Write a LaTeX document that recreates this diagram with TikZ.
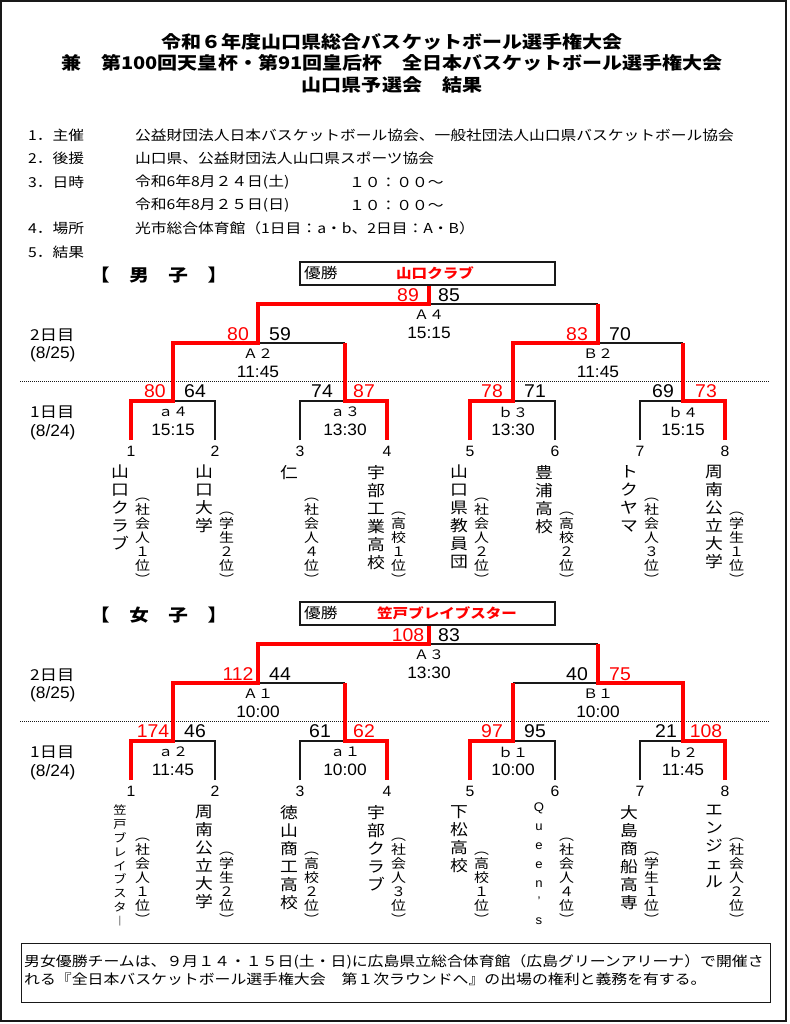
\documentclass[tikz,border=0pt]{standalone}
\usepackage{fontspec}
\setmainfont{Noto Sans CJK JP}[FakeStretch=1.15]
\newfontfamily\lat{Liberation Sans}[FakeStretch=1.05]
\definecolor{wred}{RGB}{255,0,0}
\definecolor{ink}{RGB}{25,25,25}
\newcommand\myfs[2]{\fontsize{#1}{#2}\selectfont}
\tikzset{
 win/.style={draw=wred, line width=3.6pt},
 lose/.style={draw=ink, line width=1.4pt},
 score/.style={anchor=base, inner sep=0pt, font=\lat\myfs{18.5}{18}},
 wscore/.style={score, text=wred},
 mlabel/.style={inner sep=0pt, font=\myfs{13}{14}},
 tlabel/.style={inner sep=0pt, font=\lat\myfs{16.5}{16}},
 num/.style={inner sep=0pt, font=\lat\myfs{15}{15}},
 vname/.style={anchor=north, inner sep=0pt, align=center, font=\myfs{15.5}{18}},
 vcat/.style={anchor=south, inner sep=0pt, align=center, font=\myfs{13}{14}},
 info/.style={anchor=west, inner sep=0pt, font=\myfs{13.7}{16}},
 title/.style={inner sep=0pt, font=\bfseries\myfs{17.4}{20}},
 head/.style={anchor=west, inner sep=0pt, font=\bfseries\myfs{17}{18}},
 champ/.style={draw=ink, line width=1.2pt, minimum width=255pt, minimum height=23pt, inner sep=0pt},
 day/.style={anchor=west, inner sep=0pt, font=\myfs{15}{16}},
 daydate/.style={anchor=west, inner sep=0pt, font=\lat\myfs{16.5}{16}},
}
\begin{document}
\begin{tikzpicture}[x=1pt,y=-1pt]
\useasboundingbox (0,0) rectangle (789,1024);
\draw[draw=ink, line width=1.6pt] (1,1) rectangle (786,1021);

% titles
\node[title] (t1) at (392,42) {令和６年度山口県総合バスケットボール選手権大会};
\node[title] (t2) at (392,63) {兼　第100回天皇杯・第91回皇后杯　全日本バスケットボール選手権大会};
\node[title] (t3) at (392,85) {山口県予選会　結果};

% info
\node[info] (i1a) at (28,135) {1．主催};
\node[info] (i1b) at (135,135) {公益財団法人日本バスケットボール協会、一般社団法人山口県バスケットボール協会};
\node[info] (i2a) at (28,158) {2．後援};
\node[info] (i2b) at (135,158) {山口県、公益財団法人山口県スポーツ協会};
\node[info] (i3a) at (28,182) {3．日時};
\node[info] (i3b) at (135,182) {令和6年8月２４日(土)};
\node[info] (i3c) at (349,182) {１０：００～};
\node[info] (i3d) at (135,205) {令和6年8月２５日(日)};
\node[info] (i3e) at (349,205) {１０：００～};
\node[info] (i4a) at (28,228) {4．場所};
\node[info] (i4b) at (135,228) {光市総合体育館（1日目：a・b、2日目：A・B）};
\node[info] (i5a) at (28,252) {5．結果};

% ================= MEN =================
\node[head] (mh) at (90,275) {【　男　子　】};
\node[champ] (mW) at (427.5,273.5) {};
\node[anchor=west, inner sep=0pt, font=\myfs{14.5}{16}] (mWl) at (304,273.5) {優勝};
\node[anchor=west, inner sep=0pt, font=\bfseries\myfs{13.5}{16}, text=wred] (mWn) at (396,273.5) {山口クラブ};

\coordinate (sepmL) at (20,381); \coordinate (sepmR) at (769,381);
\draw[ink, line width=1pt, dash pattern=on 1pt off 1pt] (sepmL) -- (sepmR);

\node[day] (md2) at (30,335) {2日目};
\node[daydate] (md2d) at (30,354) {(8/25)};
\node[day] (md1) at (30,412) {1日目};
\node[daydate] (md1d) at (30,432) {(8/24)};

\coordinate (m1) at (131,440); \coordinate (m2) at (215,440);
\coordinate (m3) at (300,440); \coordinate (m4) at (387,440);
\coordinate (m5) at (470,440); \coordinate (m6) at (555,440);
\coordinate (m7) at (640,440); \coordinate (m8) at (725,440);
\coordinate (mA) at (173,401); \coordinate (mB) at (345,401);
\coordinate (mC) at (513,401); \coordinate (mD) at (683,401);
\coordinate (mE) at (258,343); \coordinate (mF) at (598,343);
\coordinate (mG) at (429,304);

\draw[lose] (m2) |- (mA);
\draw[lose] (m3) |- (mB);
\draw[lose] (m6) |- (mC);
\draw[lose] (m7) |- (mD);
\draw[lose] (mE) -- (mB |- mE);
\draw[lose] (mF) -- (mD |- mF);
\draw[lose] (mG) -- (mF |- mG);
\draw[win] (m1) |- (mA) |- (mE) |- (mG) -- (mG |- mW.south);
\draw[win] (m4) |- (mB) -- (mB |- mE);
\draw[win] (m5) |- (mC) |- (mF) -- (mF |- mG);
\draw[win] (m8) |- (mD) -- (mD |- mF);

% scores
\node[wscore] (msG1) at (408,301) {89};
\node[score]  (msG2) at (449,301) {85};
\node[wscore] (msE1) at (238,340) {80};
\node[score]  (msE2) at (280,340) {59};
\node[wscore] (msF1) at (577,340) {83};
\node[score]  (msF2) at (620,340) {70};
\node[wscore] (msA1) at (155,397.5) {80};
\node[score]  (msA2) at (195,397.5) {64};
\node[score]  (msB1) at (322,397.5) {74};
\node[wscore] (msB2) at (364,397.5) {87};
\node[wscore] (msC1) at (492,397.5) {78};
\node[score]  (msC2) at (535,397.5) {71};
\node[score]  (msD1) at (663,397.5) {69};
\node[wscore] (msD2) at (706,397.5) {73};

% match labels
\node[mlabel] (mlG) at (429,315) {Ａ４};
\node[tlabel] (mtG) at (429,333) {15:15};
\node[mlabel] (mlE) at (258,354) {Ａ２};
\node[tlabel] (mtE) at (258,372) {11:45};
\node[mlabel] (mlF) at (598,354) {Ｂ２};
\node[tlabel] (mtF) at (598,372) {11:45};
\node[mlabel] (mlA) at (173,412) {ａ４};
\node[tlabel] (mtA) at (173,430) {15:15};
\node[mlabel] (mlB) at (345,412) {ａ３};
\node[tlabel] (mtB) at (345,430) {13:30};
\node[mlabel] (mlC) at (513,412) {ｂ３};
\node[tlabel] (mtC) at (513,430) {13:30};
\node[mlabel] (mlD) at (683,412) {ｂ４};
\node[tlabel] (mtD) at (683,430) {15:15};

% numbers
\node[num] (mn1) at (131,451) {1};
\node[num] (mn2) at (215,451) {2};
\node[num] (mn3) at (300,451) {3};
\node[num] (mn4) at (387,451) {4};
\node[num] (mn5) at (470,451) {5};
\node[num] (mn6) at (555,451) {6};
\node[num] (mn7) at (640,451) {7};
\node[num] (mn8) at (725,451) {8};

% names
\node[vname] (mt1) at (120,465) {山\\口\\ク\\ラ\\ブ};
\node[vcat]  (mc1) at (142.5,585) {︵\\社\\会\\人\\１\\位\\︶};
\node[vname] (mt2) at (204,465) {山\\口\\大\\学};
\node[vcat]  (mc2) at (226.5,585) {︵\\学\\生\\２\\位\\︶};
\node[vname] (mt3) at (289,465) {仁};
\node[vcat]  (mc3) at (311.5,585) {︵\\社\\会\\人\\４\\位\\︶};
\node[vname] (mt4) at (376,465) {宇\\部\\工\\業\\高\\校};
\node[vcat]  (mc4) at (398.5,585) {︵\\高\\校\\１\\位\\︶};
\node[vname] (mt5) at (459,465) {山\\口\\県\\教\\員\\団};
\node[vcat]  (mc5) at (481.5,585) {︵\\社\\会\\人\\２\\位\\︶};
\node[vname] (mt6) at (544,465) {豊\\浦\\高\\校};
\node[vcat]  (mc6) at (566.5,585) {︵\\高\\校\\２\\位\\︶};
\node[vname] (mt7) at (629,465) {ト\\ク\\ヤ\\マ};
\node[vcat]  (mc7) at (651.5,585) {︵\\社\\会\\人\\３\\位\\︶};
\node[vname] (mt8) at (714,465) {周\\南\\公\\立\\大\\学};
\node[vcat]  (mc8) at (736.5,585) {︵\\学\\生\\１\\位\\︶};

% ================= WOMEN =================
\node[head] (wh) at (90,615) {【　女　子　】};
\node[champ] (wW) at (427.5,613.5) {};
\node[anchor=west, inner sep=0pt, font=\myfs{14.5}{16}] (wWl) at (304,613.5) {優勝};
\node[anchor=west, inner sep=0pt, font=\bfseries\myfs{13.5}{16}, text=wred] (wWn) at (377,613.5) {笠戸ブレイブスター};

\coordinate (sepwL) at (20,721); \coordinate (sepwR) at (769,721);
\draw[ink, line width=1pt, dash pattern=on 1pt off 1pt] (sepwL) -- (sepwR);

\node[day] (wd2) at (30,675) {2日目};
\node[daydate] (wd2d) at (30,694) {(8/25)};
\node[day] (wd1) at (30,752) {1日目};
\node[daydate] (wd1d) at (30,772) {(8/24)};

\coordinate (w1) at (131,780); \coordinate (w2) at (215,780);
\coordinate (w3) at (300,780); \coordinate (w4) at (387,780);
\coordinate (w5) at (470,780); \coordinate (w6) at (555,780);
\coordinate (w7) at (640,780); \coordinate (w8) at (725,780);
\coordinate (wA) at (173,741); \coordinate (wB) at (345,741);
\coordinate (wC) at (513,741); \coordinate (wD) at (683,741);
\coordinate (wE) at (258,683); \coordinate (wF) at (598,683);
\coordinate (wG) at (429,644);

\draw[lose] (w2) |- (wA);
\draw[lose] (w3) |- (wB);
\draw[lose] (w6) |- (wC);
\draw[lose] (w7) |- (wD);
\draw[lose] (wE) -- (wB |- wE);
\draw[lose] (wF) -- (wC |- wF);
\draw[lose] (wG) -- (wF |- wG);
\draw[win] (w1) |- (wA) |- (wE) |- (wG) -- (wG |- wW.south);
\draw[win] (w4) |- (wB) -- (wB |- wE);
\draw[win] (w5) |- (wC) -- (wC |- wF);
\draw[win] (w8) |- (wD) |- (wF) -- (wF |- wG);

\node[wscore] (wsG1) at (408,641) {108};
\node[score]  (wsG2) at (449,641) {83};
\node[wscore] (wsE1) at (238,680) {112};
\node[score]  (wsE2) at (280,680) {44};
\node[score]  (wsF1) at (577,680) {40};
\node[wscore] (wsF2) at (620,680) {75};
\node[wscore] (wsA1) at (153,737.5) {174};
\node[score]  (wsA2) at (195,737.5) {46};
\node[score]  (wsB1) at (320,737.5) {61};
\node[wscore] (wsB2) at (364,737.5) {62};
\node[wscore] (wsC1) at (492,737.5) {97};
\node[score]  (wsC2) at (535,737.5) {95};
\node[score]  (wsD1) at (666,737.5) {21};
\node[wscore] (wsD2) at (706,737.5) {108};

\node[mlabel] (wlG) at (429,655) {Ａ３};
\node[tlabel] (wtG) at (429,673) {13:30};
\node[mlabel] (wlE) at (258,694) {Ａ１};
\node[tlabel] (wtE) at (258,712) {10:00};
\node[mlabel] (wlF) at (598,694) {Ｂ１};
\node[tlabel] (wtF) at (598,712) {10:00};
\node[mlabel] (wlA) at (173,752) {ａ２};
\node[tlabel] (wtA) at (173,770) {11:45};
\node[mlabel] (wlB) at (345,752) {ａ１};
\node[tlabel] (wtB) at (345,770) {10:00};
\node[mlabel] (wlC) at (513,752) {ｂ１};
\node[tlabel] (wtC) at (513,770) {10:00};
\node[mlabel] (wlD) at (683,752) {ｂ２};
\node[tlabel] (wtD) at (683,770) {11:45};

\node[num] (wn1) at (131,791) {1};
\node[num] (wn2) at (215,791) {2};
\node[num] (wn3) at (300,791) {3};
\node[num] (wn4) at (387,791) {4};
\node[num] (wn5) at (470,791) {5};
\node[num] (wn6) at (555,791) {6};
\node[num] (wn7) at (640,791) {7};
\node[num] (wn8) at (725,791) {8};

\node[vname, font=\myfs{11.5}{13.8}] (wt1) at (120,805) {笠\\戸\\ブ\\レ\\イ\\ブ\\ス\\タ\\︱};
\node[vcat]  (wc1) at (142.5,925) {︵\\社\\会\\人\\１\\位\\︶};
\node[vname] (wt2) at (204,805) {周\\南\\公\\立\\大\\学};
\node[vcat]  (wc2) at (226.5,925) {︵\\学\\生\\２\\位\\︶};
\node[vname] (wt3) at (289,805) {徳\\山\\商\\工\\高\\校};
\node[vcat]  (wc3) at (311.5,925) {︵\\高\\校\\２\\位\\︶};
\node[vname] (wt4) at (376,805) {宇\\部\\ク\\ラ\\ブ};
\node[vcat]  (wc4) at (398.5,925) {︵\\社\\会\\人\\３\\位\\︶};
\node[vname] (wt5) at (459,805) {下\\松\\高\\校};
\node[vcat]  (wc5) at (481.5,925) {︵\\高\\校\\１\\位\\︶};
\node[vname, font=\lat\myfs{12.5}{18.8}] (wt6) at (539,803) {Q\\u\\e\\e\\n\\’\\s};
\node[vcat]  (wc6) at (566.5,925) {︵\\社\\会\\人\\４\\位\\︶};
\node[vname] (wt7) at (629,805) {大\\島\\商\\船\\高\\専};
\node[vcat]  (wc7) at (651.5,925) {︵\\学\\生\\１\\位\\︶};
\node[vname] (wt8) at (714,805) {エ\\ン\\ジ\\ェ\\ル};
\node[vcat]  (wc8) at (736.5,925) {︵\\社\\会\\人\\２\\位\\︶};

% note
\node[draw=ink, line width=1.4pt, anchor=north west, minimum width=749pt, minimum height=59pt, inner sep=0pt] (notebox) at (21,943) {};
\node[anchor=north west, inner sep=0pt, align=left, font=\myfs{13.8}{18}] (note) at (24,954) {男女優勝チームは、９月１４・１５日(土・日)に広島県立総合体育館（広島グリーンアリーナ）で開催さ\\れる『全日本バスケットボール選手権大会　第１次ラウンドへ』の出場の権利と義務を有する。};
\end{tikzpicture}
\end{document}
